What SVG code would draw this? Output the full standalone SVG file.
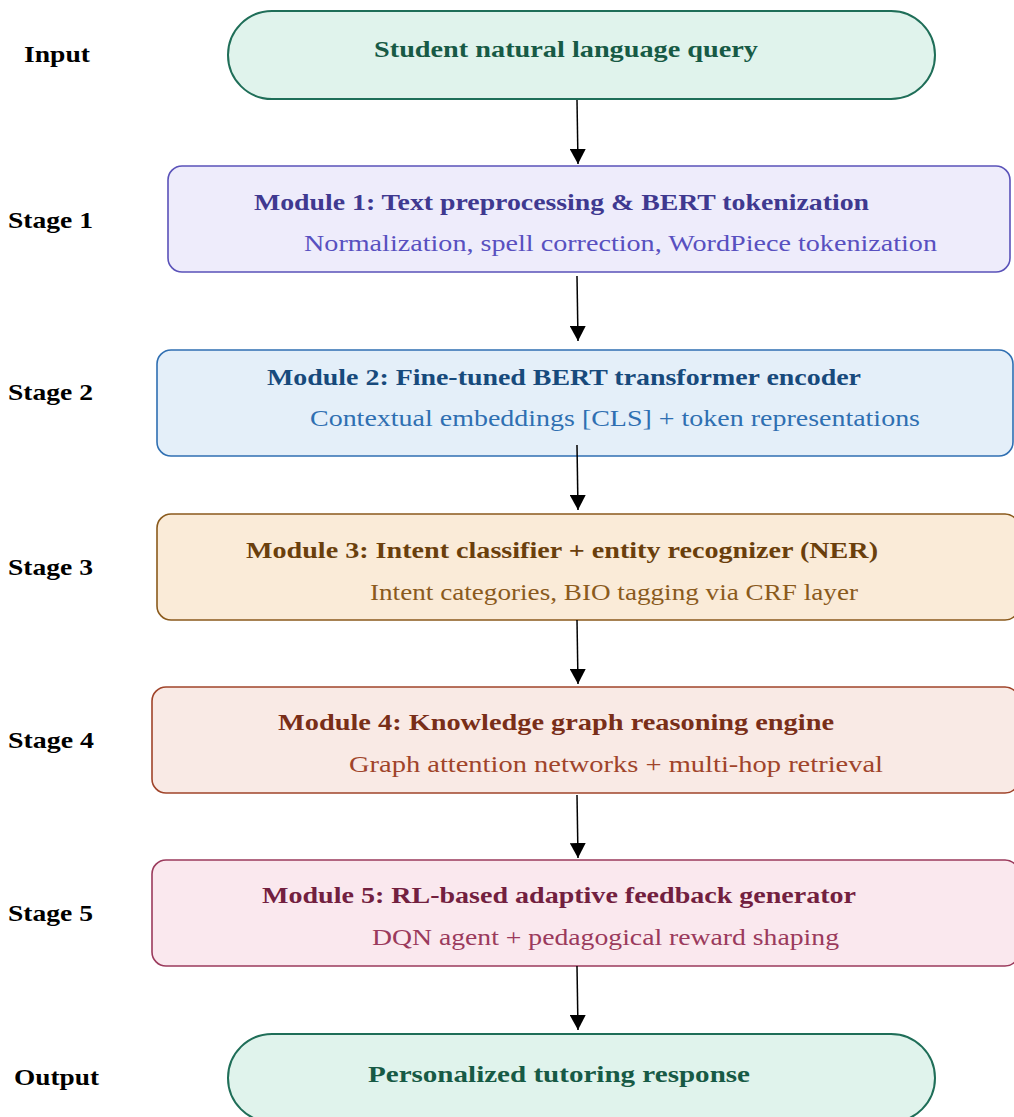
<svg xmlns="http://www.w3.org/2000/svg" width="1014" height="1117" viewBox="0 0 1014 1117">
<defs>
<marker id="ah" markerUnits="userSpaceOnUse" markerWidth="15" markerHeight="16" viewBox="0 0 15 16" refX="15" refY="8" orient="auto">
<path d="M0,0 L15,8 L0,16 z" fill="#000"/>
</marker>
</defs>
<style>
text{font-family:"Liberation Serif","DejaVu Serif",serif}
.lab{font-size:23px;font-weight:bold;fill:#000}
.tt{font-size:24px;font-weight:bold}
.st{font-size:23px}
.pill{fill:#e0f3ec;stroke:#1f6e58;stroke-width:2}
.pt{fill:#175a45;font-size:24px;font-weight:bold}
.box{stroke-width:1.6}
.conn line{stroke:#000;stroke-width:1.5;marker-end:url(#ah)}
</style>
<rect width="1014" height="1117" fill="#fff"/>
<g id="labels">
<text class="lab" x="24" y="62" textLength="66" lengthAdjust="spacingAndGlyphs">Input</text>
<text class="lab" x="8" y="228" textLength="85" lengthAdjust="spacingAndGlyphs">Stage 1</text>
<text class="lab" x="8" y="400" textLength="85" lengthAdjust="spacingAndGlyphs">Stage 2</text>
<text class="lab" x="8" y="575" textLength="85" lengthAdjust="spacingAndGlyphs">Stage 3</text>
<text class="lab" x="8" y="748" textLength="86" lengthAdjust="spacingAndGlyphs">Stage 4</text>
<text class="lab" x="8" y="921" textLength="85" lengthAdjust="spacingAndGlyphs">Stage 5</text>
<text class="lab" x="14" y="1085" textLength="85" lengthAdjust="spacingAndGlyphs">Output</text>
</g>
<g id="input">
<rect class="pill" x="228" y="11" width="707" height="88" rx="44"/>
<text class="pt" x="374" y="57" textLength="384" lengthAdjust="spacingAndGlyphs">Student natural language query</text>
</g>
<g id="module1">
<rect class="box" x="168" y="166" width="842" height="106" rx="14" fill="#eeecfb" stroke="#5a52b9"/>
<text class="tt" x="254" y="210" fill="#3f3990" textLength="615" lengthAdjust="spacingAndGlyphs">Module 1: Text preprocessing &amp; BERT tokenization</text>
<text class="st" x="304" y="251" fill="#5850c0" textLength="633" lengthAdjust="spacingAndGlyphs">Normalization, spell correction, WordPiece tokenization</text>
</g>
<g id="module2">
<rect class="box" x="157" y="350" width="856" height="106" rx="14" fill="#e4eff9" stroke="#2f6fb2"/>
<text class="tt" x="267" y="385" fill="#174a7c" textLength="594" lengthAdjust="spacingAndGlyphs">Module 2: Fine-tuned BERT transformer encoder</text>
<text class="st" x="310" y="426" fill="#2f6fb2" textLength="610" lengthAdjust="spacingAndGlyphs">Contextual embeddings [CLS] + token representations</text>
</g>
<g id="module3">
<rect class="box" x="157" y="514" width="862" height="106" rx="14" fill="#faebd8" stroke="#8a5a1c"/>
<text class="tt" x="246" y="558" fill="#6a3f0c" textLength="632" lengthAdjust="spacingAndGlyphs">Module 3: Intent classifier + entity recognizer (NER)</text>
<text class="st" x="370" y="600" fill="#8a5a1c" textLength="488" lengthAdjust="spacingAndGlyphs">Intent categories, BIO tagging via CRF layer</text>
</g>
<g id="module4">
<rect class="box" x="152" y="687" width="867" height="106" rx="14" fill="#f9eae5" stroke="#a0442a"/>
<text class="tt" x="278" y="730" fill="#792e18" textLength="556" lengthAdjust="spacingAndGlyphs">Module 4: Knowledge graph reasoning engine</text>
<text class="st" x="349" y="772" fill="#a0442a" textLength="534" lengthAdjust="spacingAndGlyphs">Graph attention networks + multi-hop retrieval</text>
</g>
<g id="module5">
<rect class="box" x="152" y="860" width="867" height="106" rx="14" fill="#fae8ee" stroke="#9b3a5c"/>
<text class="tt" x="262" y="903" fill="#72203f" textLength="594" lengthAdjust="spacingAndGlyphs">Module 5: RL-based adaptive feedback generator</text>
<text class="st" x="372" y="945" fill="#9b3a5c" textLength="467" lengthAdjust="spacingAndGlyphs">DQN agent + pedagogical reward shaping</text>
</g>
<g id="output">
<rect class="pill" x="228" y="1034" width="707" height="88" rx="44"/>
<text class="pt" x="368" y="1082" textLength="382" lengthAdjust="spacingAndGlyphs">Personalized tutoring response</text>
</g>
<g class="conn" id="connectors">
<line x1="577" y1="100" x2="578" y2="164"/>
<line x1="577" y1="276" x2="578" y2="341"/>
<line x1="577" y1="445" x2="578" y2="510"/>
<line x1="577" y1="620" x2="578" y2="684"/>
<line x1="577" y1="795" x2="578" y2="858"/>
<line x1="577" y1="966" x2="578" y2="1030"/>
</g>
</svg>
